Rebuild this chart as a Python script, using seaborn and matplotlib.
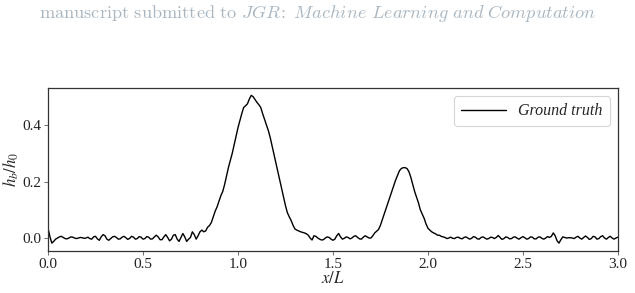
import numpy as np
import pandas as pd
import matplotlib
matplotlib.use("Agg")
import matplotlib.pyplot as plt
import seaborn as sns

# x/L grid (step 0.01 from 0 to 3)
x_vals = np.round(np.arange(0, 301) * 0.01, 2)

# h_b/h_0, rows of 0.1 in x/L
hb_vals = [
    # 0.00-0.09
    0.035, 0.005, -0.018, -0.012, -0.004, 0.000, 0.004, 0.006, 0.002, -0.002,
    # 0.10-0.19
    -0.003, 0.000, 0.004, 0.003, 0.000, -0.002, 0.000, 0.002, 0.001, -0.001,
    # 0.20-0.29
    0.000, 0.003, -0.002, -0.004, 0.004, 0.006, -0.003, -0.008, 0.004, 0.012,
    # 0.30-0.39
    0.008, -0.004, -0.008, -0.002, 0.004, 0.006, 0.002, -0.004, -0.003, 0.003,
    # 0.40-0.49
    0.006, 0.001, -0.005, -0.001, 0.006, 0.003, -0.004, -0.002, 0.005, 0.003,
    # 0.50-0.59
    -0.004, -0.002, 0.005, 0.003, -0.004, -0.003, 0.004, 0.010, 0.004, -0.006,
    # 0.60-0.69
    -0.006, 0.004, 0.012, 0.002, -0.010, -0.004, 0.010, 0.012, -0.004, -0.012,
    # 0.70-0.79
    0.002, 0.016, 0.004, -0.012, -0.004, 0.002, 0.022, 0.012, -0.004, 0.008,
    # 0.80-0.89
    0.022, 0.028, 0.022, 0.025, 0.038, 0.044, 0.055, 0.075, 0.095, 0.110,
    # 0.90-0.99
    0.130, 0.150, 0.165, 0.190, 0.220, 0.250, 0.275, 0.300, 0.330, 0.360,
    # 1.00-1.09
    0.390, 0.415, 0.440, 0.462, 0.468, 0.475, 0.492, 0.505, 0.500, 0.490,
    # 1.10-1.19
    0.480, 0.472, 0.462, 0.440, 0.420, 0.400, 0.380, 0.355, 0.325, 0.295,
    # 1.20-1.29
    0.265, 0.235, 0.205, 0.175, 0.145, 0.115, 0.090, 0.075, 0.062, 0.045,
    # 1.30-1.39
    0.032, 0.028, 0.025, 0.022, 0.020, 0.018, 0.015, 0.010, 0.000, -0.007,
    # 1.40-1.49
    0.008, 0.006, 0.000, -0.004, -0.007, -0.006, 0.000, 0.004, 0.002, -0.004,
    # 1.50-1.59
    -0.008, -0.004, 0.008, 0.016, 0.004, -0.004, -0.001, 0.004, 0.002, -0.003,
    # 1.60-1.69
    0.000, 0.006, 0.008, 0.002, -0.003, -0.004, 0.003, 0.008, 0.004, 0.000,
    # 1.70-1.79
    0.000, 0.008, 0.018, 0.024, 0.030, 0.045, 0.065, 0.085, 0.105, 0.125,
    # 1.80-1.89
    0.145, 0.165, 0.185, 0.205, 0.222, 0.238, 0.246, 0.249, 0.249, 0.246,
    # 1.90-1.99
    0.235, 0.215, 0.190, 0.165, 0.145, 0.125, 0.100, 0.085, 0.070, 0.050,
    # 2.00-2.09
    0.035, 0.028, 0.022, 0.018, 0.015, 0.010, 0.010, 0.006, 0.004, 0.002,
    # 2.10-2.19
    -0.002, 0.000, 0.003, -0.001, -0.002, 0.002, 0.003, -0.001, -0.003, 0.002,
    # 2.20-2.29
    0.004, 0.000, -0.004, -0.001, 0.005, 0.003, -0.003, -0.004, 0.002, 0.004,
    # 2.30-2.39
    0.000, -0.004, -0.002, 0.003, 0.002, -0.002, 0.002, 0.009, 0.002, -0.005,
    # 2.40-2.49
    -0.002, 0.004, 0.002, -0.003, -0.002, 0.003, 0.004, -0.001, -0.004, 0.001,
    # 2.50-2.59
    0.005, 0.001, -0.004, -0.002, 0.004, 0.003, -0.003, -0.003, 0.003, 0.004,
    # 2.60-2.69
    -0.001, -0.004, 0.000, 0.005, 0.002, 0.006, 0.018, 0.008, -0.010, -0.018,
    # 2.70-2.79
    -0.006, 0.004, 0.002, 0.000, 0.001, 0.001, 0.000, -0.002, 0.003, 0.006,
    # 2.80-2.89
    0.000, -0.004, 0.002, 0.007, 0.002, -0.005, -0.002, 0.006, 0.004, -0.004,
    # 2.90-3.00
    -0.002, 0.005, 0.008, 0.000, -0.004, 0.002, 0.006, 0.000, -0.004, 0.000, 0.003,
]
assert len(hb_vals) == len(x_vals)

x_ticks = [0.0, 0.5, 1.0, 1.5, 2.0, 2.5, 3.0]
y_ticks = [0.0, 0.2, 0.4]
series_label = "Ground truth"

sns.set_theme(style="ticks")
plt.rcParams["font.family"] = ["Liberation Serif", "DejaVu Serif"]
plt.rcParams["mathtext.fontset"] = "stix"

df = pd.DataFrame({"x": x_vals, "hb": hb_vals})

fig = plt.figure(figsize=(6.35, 2.93), dpi=100)
ax = fig.add_axes([0.0756, 0.1433, 0.8974, 0.5564])

sns.lineplot(data=df, x="x", y="hb", ax=ax, color="black", linewidth=1.0,
             estimator=None, label=series_label)

ax.set_xlim(0, 3)
ax.set_ylim(-0.046, 0.531)
ax.set_xticks(x_ticks)
ax.set_yticks(y_ticks)
ax.set_xticklabels([f"{t:.1f}" for t in x_ticks])
ax.set_yticklabels([f"{t:.1f}" for t in y_ticks])
ax.tick_params(axis="both", labelsize=11, length=3, width=0.6, color="#555555",
               labelcolor="#222222", pad=2)
for s in ax.spines.values():
    s.set_visible(True)
    s.set_linewidth(0.9)
    s.set_color("#333333")

ax.set_xlabel(r"$x/L$", fontsize=12, labelpad=0)
ax.set_ylabel(r"$h_b/h_0$", fontsize=12)
ax.yaxis.set_label_coords(-0.048, 0.5)

leg = ax.legend(loc="upper right", frameon=True,
                prop={"style": "italic", "size": 11.5}, handlelength=2.8,
                borderpad=0.45, fancybox=True)
leg.get_frame().set_edgecolor("#cccccc")
leg.get_frame().set_linewidth(0.8)

fig.text(0.5, 0.955,
         r"$\mathrm{manuscript\ submitted\ to}\ \mathit{JGR}\!\mathit{:}\ \mathit{Machine\ Learning\ and\ Computation}$",
         ha="center", va="center", fontsize=13.2, color="#aab7c1",
         math_fontfamily="cm")

fig.savefig("out.png", dpi=100)
